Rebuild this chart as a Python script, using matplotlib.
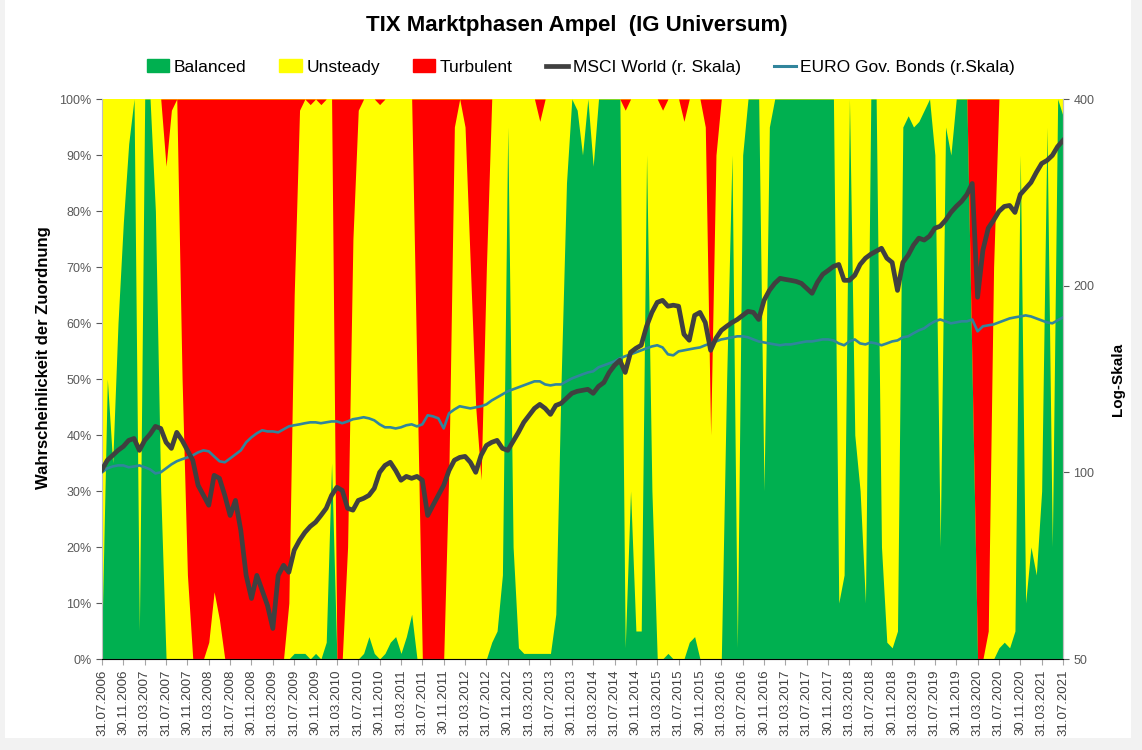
import numpy as np
import matplotlib
matplotlib.use("Agg")
import matplotlib.pyplot as plt
from matplotlib.patches import Patch, Rectangle
from matplotlib.lines import Line2D
from matplotlib.ticker import NullLocator

plt.rcParams['font.family'] = ['Liberation Sans', 'DejaVu Sans']

# month-end values, 31.07.2006 .. 31.07.2021 (one row = Jul..Jun)
balanced = [
    5, 50, 35, 60, 78, 92, 100, 5, 100, 100, 80, 30,
    0, 0, 0, 0, 0, 0, 0, 0, 0, 0, 0, 0,
    0, 0, 0, 0, 0, 0, 0, 0, 0, 0, 0, 0,
    1, 1, 1, 0, 1, 0, 3, 35, 0, 0, 0, 0,
    0, 1, 4, 1, 0, 1, 3, 4, 1, 4, 8, 0,
    0, 0, 0, 0, 0, 0, 0, 0, 0, 0, 0, 0,
    0, 3, 5, 15, 95, 20, 2, 1, 1, 1, 1, 1,
    1, 8, 50, 85, 100, 98, 90, 100, 88, 100, 100, 100,
    100, 100, 2, 30, 5, 5, 90, 30, 0, 0, 1, 0,
    0, 0, 3, 4, 0, 0, 0, 0, 0, 50, 90, 2,
    90, 100, 100, 100, 30, 95, 100, 100, 100, 100, 100, 100,
    100, 100, 100, 100, 100, 100, 10, 15, 100, 40, 30, 10,
    100, 100, 20, 3, 2, 5, 95, 97, 95, 96, 98, 100,
    90, 20, 95, 90, 100, 100, 100, 50, 0, 0, 0, 0,
    2, 3, 2, 5, 90, 10, 20, 15, 30, 95, 20, 100,
    97,
]
turbulent = [
    0, 0, 0, 0, 0, 0, 0, 0, 0, 0, 0, 0,
    12, 2, 0, 50, 85, 100, 100, 100, 97, 88, 93, 100,
    100, 100, 100, 100, 100, 100, 100, 100, 100, 100, 100, 90,
    35, 2, 0, 1, 0, 1, 0, 0, 100, 100, 80, 25,
    2, 0, 0, 0, 1, 0, 0, 0, 0, 0, 0, 50,
    100, 100, 100, 100, 100, 65, 5, 0, 5, 30, 55, 68,
    30, 0, 0, 0, 0, 0, 0, 0, 0, 0, 4, 0,
    0, 0, 0, 0, 0, 0, 0, 0, 0, 0, 0, 0,
    0, 0, 2, 0, 0, 0, 0, 0, 0, 2, 0, 0,
    0, 4, 0, 0, 0, 5, 60, 10, 0, 0, 0, 0,
    0, 0, 0, 0, 0, 0, 0, 0, 0, 0, 0, 0,
    0, 0, 0, 0, 0, 0, 0, 0, 0, 0, 0, 0,
    0, 0, 0, 0, 0, 0, 0, 0, 0, 0, 0, 0,
    0, 0, 0, 0, 0, 0, 0, 50, 100, 100, 95, 30,
    0, 0, 0, 0, 0, 0, 0, 0, 0, 0, 0, 0,
    0,
]
msci = [
    101.0, 104.6, 106.5, 108.5, 110.1, 112.6, 113.4, 108.5, 112.6, 115.2, 118.6, 117.7,
    111.8, 109.3, 116.0, 112.6, 108.5, 104.6, 95.3, 91.8, 88.5, 98.9, 97.8, 91.8,
    85.2, 90.1, 80.6, 68.2, 62.6, 68.2, 64.5, 61.0, 56.0, 68.2, 70.8, 69.0,
    74.9, 77.7, 80.0, 81.8, 83.1, 85.2, 87.5, 91.8, 94.6, 93.5, 87.5, 86.9,
    90.1, 90.8, 91.8, 94.2, 100.0, 102.6, 103.8, 100.7, 97.1, 98.5, 97.8, 98.5,
    97.1, 85.2, 88.5, 91.8, 95.3, 100.7, 104.6, 105.7, 106.1, 103.8, 100.0, 106.5,
    110.5, 111.8, 112.6, 109.3, 108.5, 112.2, 116.0, 120.4, 123.6, 126.8, 128.7, 126.8,
    124.0, 128.2, 129.2, 131.6, 134.1, 135.1, 135.6, 136.1, 134.1, 137.6, 139.6, 144.9,
    148.8, 151.6, 144.9, 156.1, 158.5, 160.3, 172.0, 181.1, 188.0, 189.4, 185.3, 186.0,
    185.3, 167.0, 163.3, 179.1, 181.1, 174.4, 157.3, 164.5, 169.4, 172.0, 174.4, 176.4,
    179.1, 181.8, 181.1, 176.4, 189.4, 196.5, 201.7, 205.5, 204.7, 204.0, 203.2, 201.7,
    198.0, 194.4, 202.5, 208.6, 211.6, 214.8, 216.4, 204.0, 204.0, 207.9, 216.4, 221.5,
    224.8, 227.3, 229.8, 221.5, 218.0, 196.5, 218.0, 224.0, 232.5, 238.6, 236.9, 240.4,
    247.6, 249.4, 255.0, 262.5, 268.4, 273.5, 280.6, 292.3, 191.6, 228.2, 247.6, 255.0,
    263.5, 268.4, 269.4, 262.5, 280.6, 287.0, 293.4, 304.5, 314.8, 318.4, 324.4, 335.3,
    342.9,
]
bonds = [
    100.0, 101.5, 102.2, 102.6, 102.6, 101.9, 102.2, 102.6, 101.9, 101.1, 99.6, 100.0,
    101.5, 103.0, 104.2, 105.0, 105.7, 106.5, 107.7, 108.5, 108.1, 106.1, 104.2, 103.8,
    105.3, 106.9, 108.5, 111.8, 113.9, 115.6, 116.9, 116.4, 116.4, 116.0, 117.3, 118.6,
    119.1, 119.5, 120.0, 120.4, 120.4, 120.0, 120.4, 120.8, 120.8, 120.0, 120.8, 121.8,
    122.2, 122.7, 122.2, 121.3, 119.5, 118.2, 118.2, 117.7, 118.2, 119.1, 119.5, 118.6,
    119.5, 123.6, 123.1, 122.2, 117.7, 124.5, 126.3, 127.8, 127.3, 126.8, 127.3, 127.8,
    128.7, 130.6, 132.1, 133.6, 135.1, 136.1, 137.1, 138.1, 139.1, 140.2, 140.2, 138.6,
    138.1, 138.6, 138.6, 140.2, 141.7, 142.8, 143.9, 144.9, 145.5, 147.7, 148.8, 149.9,
    151.0, 152.7, 153.9, 155.0, 156.1, 157.3, 158.5, 159.6, 160.3, 159.0, 155.0, 154.4,
    156.7, 157.3, 157.9, 158.5, 159.0, 160.3, 161.4, 162.6, 163.8, 164.4, 165.1, 165.7,
    165.7, 165.1, 163.8, 162.6, 162.0, 161.4, 160.8, 160.3, 160.8, 160.8, 161.4, 162.0,
    162.6, 162.6, 163.2, 163.8, 163.8, 163.2, 161.4, 160.3, 162.6, 163.8, 161.4, 160.8,
    162.0, 161.4, 160.3, 161.4, 162.6, 163.2, 165.1, 165.7, 167.6, 169.4, 170.7, 173.2,
    175.2, 176.4, 175.2, 173.9, 174.5, 175.2, 175.2, 176.4, 168.8, 172.0, 172.6, 173.2,
    174.5, 175.8, 177.1, 177.8, 178.4, 179.1, 178.4, 177.1, 175.8, 174.5, 173.9, 175.8,
    177.8,
]
tick_labels = [
    "31.07.2006", "30.11.2006", "31.03.2007", "31.07.2007", "30.11.2007", "31.03.2008",
    "31.07.2008", "30.11.2008", "31.03.2009", "31.07.2009", "30.11.2009", "31.03.2010",
    "31.07.2010", "30.11.2010", "31.03.2011", "31.07.2011", "30.11.2011", "31.03.2012",
    "31.07.2012", "30.11.2012", "31.03.2013", "31.07.2013", "30.11.2013", "31.03.2014",
    "31.07.2014", "30.11.2014", "31.03.2015", "31.07.2015", "30.11.2015", "31.03.2016",
    "31.07.2016", "30.11.2016", "31.03.2017", "31.07.2017", "30.11.2017", "31.03.2018",
    "31.07.2018", "30.11.2018", "31.03.2019", "31.07.2019", "30.11.2019", "31.03.2020",
    "31.07.2020", "30.11.2020", "31.03.2021", "31.07.2021",
]

green = np.array(balanced, dtype=float)
red = np.array(turbulent, dtype=float)
x = np.arange(len(green))

fig = plt.figure(figsize=(11.42, 7.5), dpi=100)
fig.patch.set_facecolor("#F2F2F2")
fig.add_artist(Rectangle((5 / 1142, 12 / 750), 1126 / 1142, 738 / 750,
                         transform=fig.transFigure, facecolor="white", edgecolor="none", zorder=-1))

ax = fig.add_axes([102 / 1142, 1 - 659 / 750, 961 / 1142, 560 / 750])
# yellow is the remainder, so paint it first and lay green / red over it (no seams)
ax.fill_between(x, 0, 100, color="#FFFF00", lw=0)
ax.fill_between(x, 0, green, color="#00B050", lw=0)
ax.fill_between(x, 100 - red, 100, color="#FF0000", lw=0)
ax.set_xlim(0, len(x) - 1)
ax.set_ylim(0, 100)
ax.set_yticks(range(0, 101, 10))
ax.set_yticklabels([f"{v}%" for v in range(0, 101, 10)])
ax.set_xticks(range(0, len(x), 4))
ax.set_xticklabels(tick_labels, rotation=90, fontsize=9.5, color="#404040")
ax.tick_params(axis="y", labelsize=9, colors="#595959", length=4)
ax.tick_params(axis="x", length=4, color="#A6A6A6")
for side in ["left", "bottom", "right"]:
    ax.spines[side].set_color("#BFBFBF")
ax.spines["top"].set_visible(False)

ax2 = ax.twinx()
ax2.plot(x, bonds, color="#31859C", lw=1.9)
ax2.plot(x, msci, color="#404040", lw=3.4)
ax2.set_yscale("log")
ax2.set_ylim(50, 400)
ax2.set_yticks([50, 100, 200, 400])
ax2.set_yticklabels(["50", "100", "200", "400"])
ax2.yaxis.set_minor_locator(NullLocator())
ax2.tick_params(axis="y", labelsize=9, colors="#595959", length=4)
ax2.spines["top"].set_visible(False)
ax2.spines["right"].set_color("#BFBFBF")
ax2.spines["left"].set_visible(False)

fig.text(577 / 1142, 1 - 25 / 750, "TIX Marktphasen Ampel  (IG Universum)",
         ha="center", va="center", fontsize=16, fontweight="bold")
fig.text(44 / 1142, 1 - 358 / 750, "Wahrscheinlickeit der Zuordnung",
         rotation=90, ha="center", va="center", fontsize=12, fontweight="bold")
fig.text(1118 / 1142, 1 - 379 / 750, "Log-Skala",
         rotation=90, ha="center", va="center", fontsize=11, fontweight="bold")

handles = [
    Patch(color="#00B050"), Patch(color="#FFFF00"), Patch(color="#FF0000"),
    Line2D([], [], color="#404040", lw=3.4), Line2D([], [], color="#31859C", lw=2.2),
]
labels = ["Balanced", "Unsteady", "Turbulent", "MSCI World (r. Skala)", "EURO Gov. Bonds (r.Skala)"]
fig.legend(handles, labels, loc="center", bbox_to_anchor=(581 / 1142, 1 - 67 / 750), ncol=5,
           frameon=False, fontsize=12.5, handlelength=1.3, handletextpad=0.25, columnspacing=1.9)

fig.savefig("out.png", dpi=100, facecolor=fig.get_facecolor())
